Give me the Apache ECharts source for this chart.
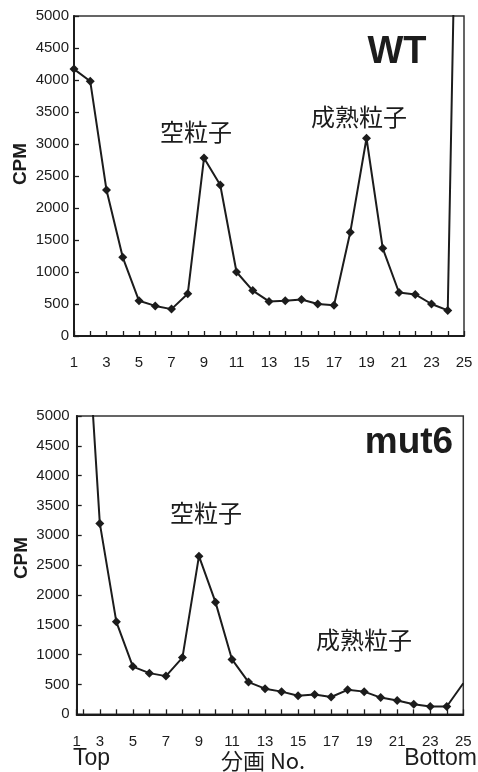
<!DOCTYPE html>
<html><head><meta charset="utf-8">
<script src="https://cdn.jsdelivr.net/npm/echarts@6/dist/echarts.min.js"></script>
<style>html,body{margin:0;padding:0;background:#fff}#c{width:478px;height:772px}</style>
</head><body><div id="c"></div>
<script>
// fraction numbers (分画 No.)
const fractions = [1,2,3,4,5,6,7,8,9,10,11,12,13,14,15,16,17,18,19,20,21,22,23,24,25];
// WT CPM per fraction (fraction 25 runs off the top of the plot)
const wtCPM = [4170,3980,2280,1230,550,470,420,660,2780,2360,1000,710,540,550,570,500,480,1620,3090,1370,680,650,500,400,13800];
// mut6 CPM per fraction (fraction 1 not visible, fraction 2 off the top)
const mut6CPM = [null,7600,3200,1550,800,690,640,950,2650,1880,920,540,430,380,310,330,290,410,380,280,230,170,130,130,520];
// tick labels
const xTickLabels = ['1','3','5','7','9','11','13','15','17','19','21','23','25'];
const yTickLabels = ['0','500','1000','1500','2000','2500','3000','3500','4000','4500','5000'];
const yMin = 0, yMax = 5000, yStep = 500;
const bottomXMin = 1.6;

const numFont = '"Liberation Sans", Arial, Helvetica, sans-serif';
const cjkFont = '"Noto Sans CJK JP", "Noto Sans CJK SC", sans-serif';
const ink = '#1c1c1c';

function toData(vals, hiddenIdx) {
  return fractions.map((f, i) => {
    if (vals[i] == null) return [f, null];
    const item = { value: [f, vals[i]] };
    if (hiddenIdx.includes(i)) item.symbol = 'none';
    return item;
  });
}

function xLabel(v, minV) {
  if (Math.abs(v - minV) < 1e-6) return xTickLabels[0];
  const s = String(v);
  return xTickLabels.includes(s) ? s : '';
}
function yLabel(v) {
  const s = String(v);
  return yTickLabels.includes(s) ? s : '';
}

function mkX(gridIndex, minV, margin) {
  return {
    type: 'value', gridIndex, min: minV, max: 25,
    minInterval: 1, maxInterval: 1, splitNumber: 24,
    axisLine: { show: true, onZero: false, lineStyle: { color: ink, width: 2 } },
    axisTick: { show: true, inside: true, length: 5, lineStyle: { color: ink, width: 1.3 } },
    splitLine: { show: false },
    axisLabel: {
      show: true, margin, color: ink, fontFamily: numFont, fontSize: 15,
      showMinLabel: true, showMaxLabel: true,
      formatter: v => xLabel(v, minV)
    }
  };
}
function mkY(gridIndex, margin) {
  return {
    type: 'value', gridIndex, min: yMin, max: yMax, interval: yStep,
    axisLine: { show: true, lineStyle: { color: ink, width: 2 } },
    axisTick: { show: true, inside: true, length: 5, lineStyle: { color: ink, width: 1.3 } },
    splitLine: { show: false },
    axisLabel: { margin, color: ink, fontFamily: numFont, fontSize: 15, formatter: yLabel }
  };
}
function mkSeries(idx, vals, hidden) {
  return {
    type: 'line', xAxisIndex: idx, yAxisIndex: idx, clip: true,
    data: toData(vals, hidden),
    symbol: 'diamond', symbolSize: 9,
    lineStyle: { color: ink, width: 2 },
    itemStyle: { color: ink },
    connectNulls: false, animation: false
  };
}
function txt(x, y, text, font, align) {
  return { type: 'text', x, y, style: { text, font, fill: ink, align: align || 'center', verticalAlign: 'middle' } };
}

const chart = echarts.init(document.getElementById('c'), null, { renderer: 'canvas' });
chart.setOption({
  backgroundColor: '#fff',
  animation: false,
  grid: [
    { left: 74, top: 16, width: 390, height: 320, show: true, borderColor: '#333', borderWidth: 1.5 },
    { left: 76.7, top: 416, width: 386.6, height: 298.3, show: true, borderColor: '#333', borderWidth: 1.5 }
  ],
  xAxis: [mkX(0, 1, 19), mkX(1, bottomXMin, 20)],
  yAxis: [mkY(0, 5), mkY(1, 7)],
  series: [mkSeries(0, wtCPM, [24]), mkSeries(1, mut6CPM, [1, 24])],
  graphic: [
    { type: 'text', x: 21, y: 164, rotation: Math.PI / 2, style: { text: 'CPM', font: 'bold 19px ' + numFont, fill: ink, align: 'center', verticalAlign: 'middle' } },
    { type: 'text', x: 22, y: 558, rotation: Math.PI / 2, style: { text: 'CPM', font: 'bold 19px ' + numFont, fill: ink, align: 'center', verticalAlign: 'middle' } },
    txt(397, 53, 'WT', 'bold 38px ' + numFont),
    txt(359, 117, '成熟粒子', '24px ' + cjkFont),
    txt(196, 132, '空粒子', '24px ' + cjkFont),
    txt(409, 443, 'mut6', 'bold 37px ' + numFont),
    txt(206, 513, '空粒子', '24px ' + cjkFont),
    txt(364, 640, '成熟粒子', '24px ' + cjkFont),
    txt(73, 759, 'Top', '23px ' + numFont, 'left'),
    txt(263, 761, '分画 No.', '22px ' + cjkFont),
    txt(477, 759, 'Bottom', '23px ' + numFont, 'right')
  ]
});
</script></body></html>
